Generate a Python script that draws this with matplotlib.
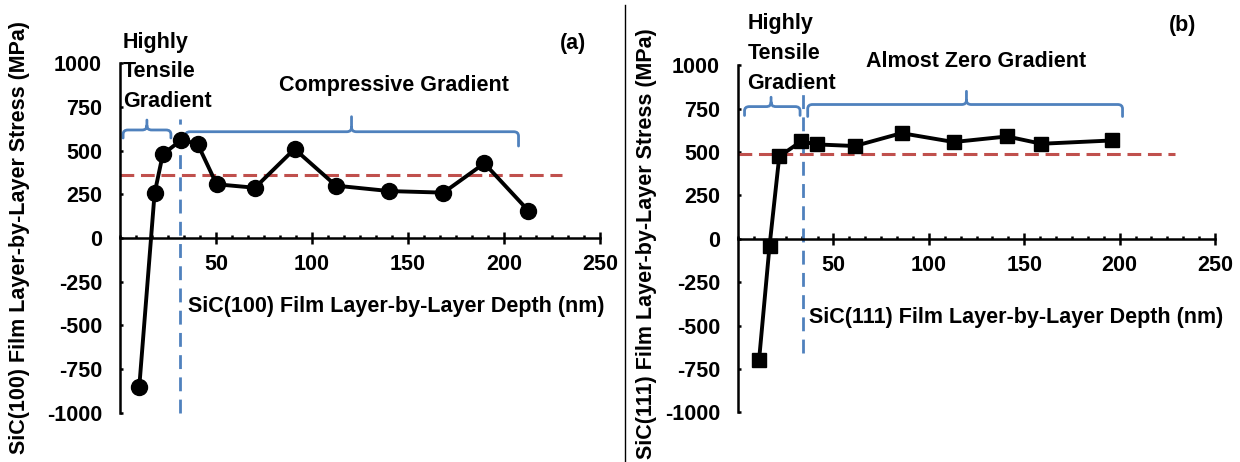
import matplotlib
matplotlib.use('Agg')
import matplotlib.pyplot as plt
from matplotlib.path import Path
from matplotlib.patches import PathPatch
from matplotlib.lines import Line2D
from matplotlib.ticker import MultipleLocator

plt.rcParams['font.family'] = ['Liberation Sans', 'DejaVu Sans']
plt.rcParams['font.weight'] = 'bold'
plt.rcParams['axes.unicode_minus'] = False

# Layer-by-layer stress, SiC(100) film
depth_100 = [10, 18, 22.3, 32, 40.4, 50.3, 70.3, 90.9, 112.5, 140.3, 168.5, 189.8, 212.7]
stress_100 = [-856, 256, 480, 562, 539, 308, 288, 510, 300, 269, 260, 428, 157]
avg_100 = 360

# Layer-by-layer stress, SiC(111) film
depth_111 = [11, 16.5, 21.6, 33, 41.6, 61.2, 85.7, 113, 141, 159, 196]
stress_111 = [-700, -42, 474, 560, 543, 534, 608, 557, 589, 547, 566]
avg_111 = 490

x_ticks = [50, 100, 150, 200, 250]
y_ticks = [-1000, -750, -500, -250, 0, 250, 500, 750, 1000]

RED = '#C0504D'
BLUE = '#4F81BD'
FS = 15.5


def brace(ax, x0, x1, xt, y, yend, ytop, rx=2.5, ry=25):
    # curly bracket drawn like the Excel shape: ends curl down, tip points up
    verts = [(x0, yend), (x0, y - ry), (x0, y), (x0 + rx, y),
             (xt - rx, y), (xt, y), (xt, y + ry), (xt, ytop),
             (xt, y + ry), (xt, y), (xt + rx, y),
             (x1 - rx, y), (x1, y), (x1, y - ry), (x1, yend)]
    codes = [Path.MOVETO, Path.LINETO, Path.CURVE3, Path.CURVE3,
             Path.LINETO, Path.CURVE3, Path.CURVE3, Path.LINETO,
             Path.MOVETO, Path.CURVE3, Path.CURVE3,
             Path.LINETO, Path.CURVE3, Path.CURVE3, Path.LINETO]
    ax.add_patch(PathPatch(Path(verts, codes), fill=False, edgecolor=BLUE,
                           lw=2.0, clip_on=False, capstyle='round'))


def setup_axes(ax):
    ax.set_xlim(0, 250)
    ax.set_ylim(-1000, 1000)
    ax.spines['left'].set_position(('data', 0))
    ax.spines['bottom'].set_position(('data', 0))
    ax.spines['top'].set_visible(False)
    ax.spines['right'].set_visible(False)
    for s in ('left', 'bottom'):
        ax.spines[s].set_linewidth(1.8)
    ax.set_xticks(x_ticks)
    ax.set_yticks(y_ticks)
    ax.xaxis.set_minor_locator(MultipleLocator(50 / 6))
    ax.tick_params(axis='x', which='major', direction='inout', length=9, width=1.8,
                   labelsize=FS, pad=7)
    ax.tick_params(axis='x', which='minor', direction='in', length=2.5, width=1.8)
    ax.tick_params(axis='y', which='major', direction='in', length=2.5, width=1.8,
                   labelsize=FS, pad=13)


fig = plt.figure(figsize=(12.4, 4.62), dpi=100)
ax1 = fig.add_axes([0.0968, 0.107, 0.387, 0.7556])
ax2 = fig.add_axes([0.5952, 0.1074, 0.3847, 0.7517])

# panel (a)
setup_axes(ax1)
ax1.plot(depth_100, stress_100, color='black', lw=2.8, marker='o', ms=11.5,
         clip_on=False, zorder=5)
ax1.plot([0, 230], [avg_100, avg_100], color=RED, lw=2.2, dashes=(4.5, 2.2),
         clip_on=False)
ax1.plot([31, 31], [-1000, 680], color=BLUE, lw=2.0, dashes=(5, 3), clip_on=False)
brace(ax1, 1.6, 26.5, 14, 619, 573, 676)
brace(ax1, 34, 207.6, 120.6, 609, 527, 695)
ax1.text(1.6, 952, 'Highly\nTensile\nGradient', fontsize=FS, ha='left', va='center',
         linespacing=1.55, clip_on=False)
ax1.text(142.7, 871, 'Compressive Gradient', fontsize=FS, ha='center', va='center')
ax1.text(236, 1117, '(a)', fontsize=FS, ha='center', va='center', clip_on=False)
ax1.text(35.4, -395, 'SiC(100) Film Layer-by-Layer Depth (nm)', fontsize=FS,
         ha='left', va='center')
fig.text(0.016, 0.487, 'SiC(100) Film Layer-by-Layer Stress (MPa)', fontsize=FS,
         rotation=90, ha='center', va='center', fontweight='bold')

# panel (b)
setup_axes(ax2)
ax2.plot(depth_111, stress_111, color='black', lw=2.8, marker='s', ms=10,
         clip_on=False, zorder=5)
ax2.plot([0, 229], [avg_111, avg_111], color=RED, lw=2.2, dashes=(4.5, 2.2),
         clip_on=False)
ax2.plot([33.8, 33.8], [-656, 882], color=BLUE, lw=2.0, dashes=(5, 3), clip_on=False)
brace(ax2, 3.4, 32.5, 17.3, 761, 710, 815)
brace(ax2, 36.5, 201.5, 119.7, 773, 704, 849)
ax2.text(5, 1066, 'Highly\nTensile\nGradient', fontsize=FS, ha='left', va='center',
         linespacing=1.55, clip_on=False)
ax2.text(124.6, 1019, 'Almost Zero Gradient', fontsize=FS, ha='center', va='center',
         clip_on=False)
ax2.text(233, 1230, '(b)', fontsize=FS, ha='center', va='center', clip_on=False)
ax2.text(37, -456, 'SiC(111) Film Layer-by-Layer Depth (nm)', fontsize=FS,
         ha='left', va='center')
fig.text(0.521, 0.472, 'SiC(111) Film Layer-by-Layer Stress (MPa)', fontsize=FS,
         rotation=90, ha='center', va='center', fontweight='bold')

# separator between the two panels
fig.add_artist(Line2D([0.504, 0.504], [0.0, 0.989], transform=fig.transFigure,
                      color='black', lw=1.0))

fig.savefig('out.png', dpi=100)
